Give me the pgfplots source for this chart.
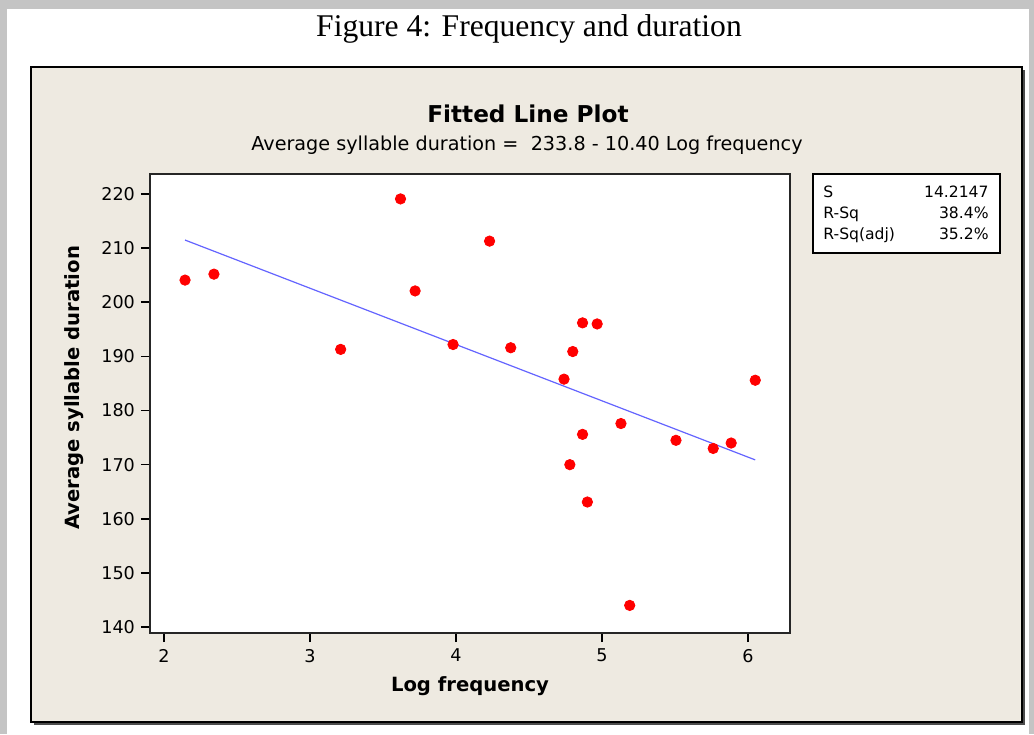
\documentclass[border=0pt]{standalone}
\usepackage{pgfplots}
\pgfplotsset{compat=1.18}
\usepackage{fontspec}
\setmainfont{Liberation Serif}
\newfontfamily\mtb{DejaVu Sans}
\definecolor{panel}{HTML}{EEEAE1}
\definecolor{fitblue}{HTML}{6464FF}
\definecolor{shadow}{HTML}{C4C4C4}

% Log frequency vs. average syllable duration
\pgfplotstableread{
x      y
2.144  204.1
2.342  205.2
3.210  191.3
3.620  219.1
3.720  202.1
3.980  192.2
4.230  211.3
4.375  191.6
4.740  185.8
4.780  170.0
4.800  190.9
4.867  196.2
4.867  175.6
4.900  163.1
4.967  196.0
5.130  177.6
5.190  144.0
5.507  174.5
5.762  173.0
5.885  174.0
6.050  185.6
}\sylldata

\begin{document}
\begin{tikzpicture}[x=0.5pt,y=-0.5pt]
% page and its shadow
\fill[shadow] (0,0) rectangle (1034,734);
\fill[white] (7,9) rectangle (1029,734);
\node[font=\fontsize{15.8}{18}\selectfont] at (529,29) {Figure 4: Frequency and duration};
% chart panel
\fill[black!70] (34,70) rectangle (1025,725);
\filldraw[fill=panel, draw=black, line width=0.8pt] (31,67) rectangle (1022,722);
% titles
\node[font=\mtb\bfseries\fontsize{11.6}{13}\selectfont] at (528,114) {Fitted Line Plot};
\node[font=\mtb\fontsize{9.6}{11}\selectfont] at (527,145) {Average syllable duration =\ \ 233.8 - 10.40 Log frequency};
% axis titles
\node[font=\mtb\bfseries\fontsize{9.8}{11}\selectfont] at (470,686) {Log frequency};
\node[font=\mtb\bfseries\fontsize{9.8}{11}\selectfont, rotate=90] at (74,388) {Average syllable duration};
% summary box
\filldraw[fill=white, draw=black, line width=0.8pt] (813,174) rectangle (1000,253);
\begin{scope}[font=\mtb\fontsize{7.8}{9}\selectfont]
\node[anchor=base west, inner xsep=0pt] at (823,197) {S};
\node[anchor=base west, inner xsep=0pt] at (823,218) {R-Sq};
\node[anchor=base west, inner xsep=0pt] at (823,239) {R-Sq(adj)};
\node[anchor=base east, inner xsep=0pt] at (989,197) {14.2147};
\node[anchor=base east, inner xsep=0pt] at (989,218) {38.4\%};
\node[anchor=base east, inner xsep=0pt] at (989,239) {35.2\%};
\end{scope}
\begin{axis}[
  at={(75pt,-316.5pt)}, anchor=south west,
  scale only axis, width=320pt, height=229.5pt,
  xmin=1.904, xmax=6.288, ymin=138.9, ymax=223.7,
  xtick={2,3,4,5,6}, ytick={140,150,...,220},
  xtick pos=bottom, ytick pos=left,
  tick align=outside, major tick length=4.5pt,
  tick style={black, line width=0.8pt},
  axis line style={black!85, line width=1pt},
  axis background/.style={fill=white},
  tick label style={font=\mtb\fontsize{8.8}{10}\selectfont},
  yticklabel style={xshift=0.5pt},
  /pgf/number format/assume math mode=true,
  clip=false,
]
\addplot[only marks, mark=*, mark size=2.6pt, color=red, mark options={draw=red, fill=red}] table[x=x, y=y] {\sylldata};
\addplot[fitblue, line width=0.6pt] coordinates {(2.144,211.50) (6.050,170.88)};
\end{axis}
\end{tikzpicture}
\end{document}
